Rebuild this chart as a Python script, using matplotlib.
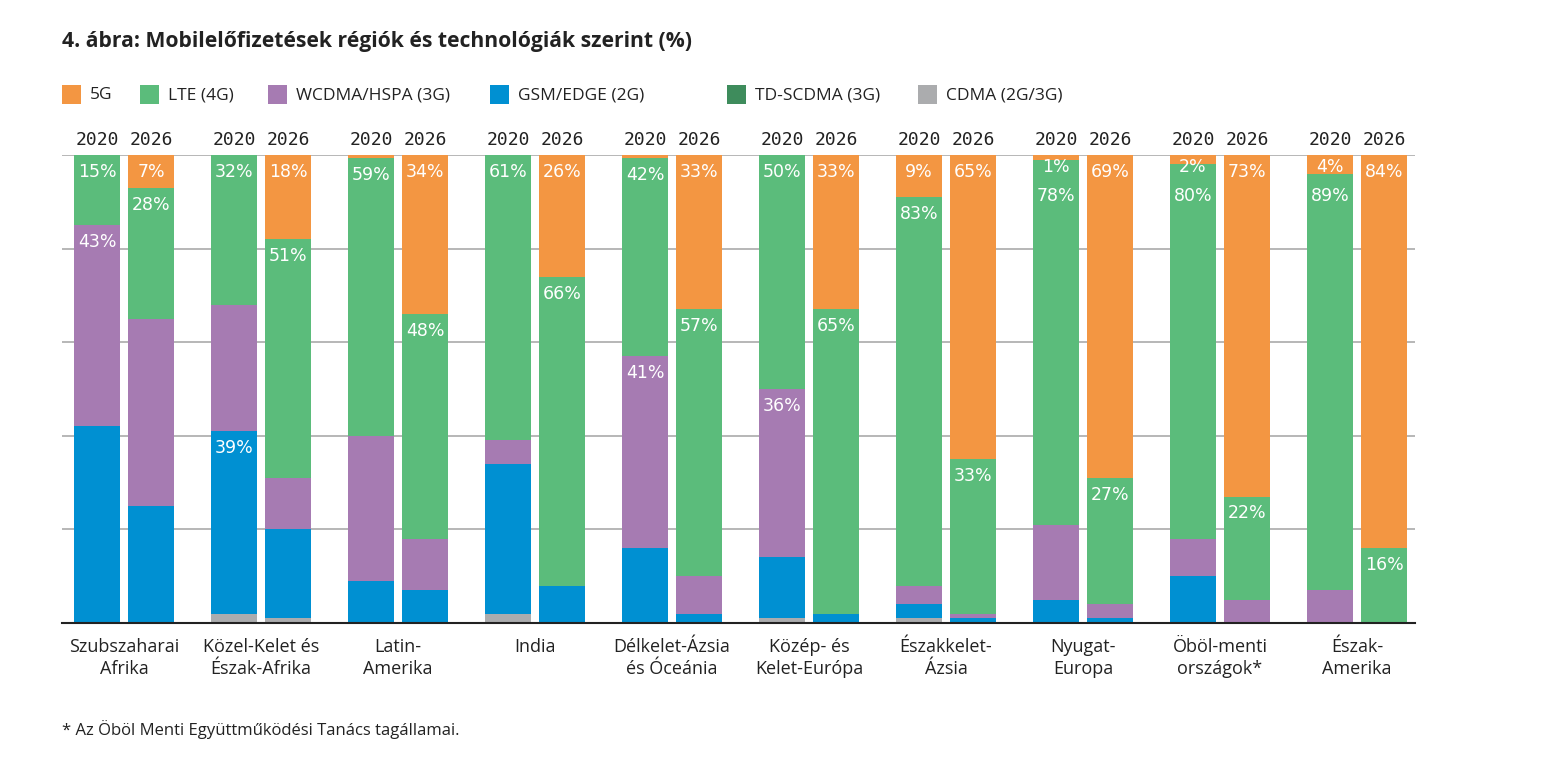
import matplotlib.pyplot as plt
from matplotlib.patches import Rectangle

# adatok (%), régiók sorrendjében
regiok = ["Szubszaharai\nAfrika", "Közel-Kelet és\nÉszak-Afrika", "Latin-\nAmerika", "India",
          "Délkelet-Ázsia\nés Óceánia", "Közép- és\nKelet-Európa", "Északkelet-\nÁzsia",
          "Nyugat-\nEuropa", "Öböl-menti\nországok*", "Észak-\nAmerika"]
evek = ["2020", "2026"]

g5_2020    = [0, 0, 0.6, 0, 0.6, 0, 9, 1, 2, 4]
lte_2020   = [15, 32, 59.4, 61, 42.4, 50, 83, 78, 80, 89]
wcdma_2020 = [43, 27, 31, 5, 41, 36, 4, 16, 8, 7]
gsm_2020   = [42, 39, 9, 32, 16, 13, 3, 5, 10, 0]
td_2020    = [0, 0, 0, 0, 0, 0, 0, 0, 0, 0]
cdma_2020  = [0, 2, 0, 2, 0, 1, 1, 0, 0, 0]

g5_2026    = [7, 18, 34, 26, 33, 33, 65, 69, 73, 84]
lte_2026   = [28, 51, 48, 66, 57, 65, 33, 27, 22, 16]
wcdma_2026 = [40, 11, 11, 0, 8, 0, 1, 3, 5, 0]
gsm_2026   = [25, 19, 7, 8, 2, 2, 1, 1, 0, 0]
td_2026    = [0, 0, 0, 0, 0, 0, 0, 0, 0, 0]
cdma_2026  = [0, 1, 0, 0, 0, 0, 0, 0, 0, 0]

techs = ["5G", "LTE (4G)", "WCDMA/HSPA (3G)", "GSM/EDGE (2G)", "TD-SCDMA (3G)", "CDMA (2G/3G)"]
colors = ["#F39642", "#5BBC7B", "#A67BB2", "#0090D2", "#3E8C5C", "#ABACAE"]

# alulról felfelé: CDMA, GSM, WCDMA, TD-SCDMA, LTE, 5G
stack_2020 = {"CDMA (2G/3G)": cdma_2020, "GSM/EDGE (2G)": gsm_2020, "WCDMA/HSPA (3G)": wcdma_2020,
              "TD-SCDMA (3G)": td_2020, "LTE (4G)": lte_2020, "5G": g5_2020}
stack_2026 = {"CDMA (2G/3G)": cdma_2026, "GSM/EDGE (2G)": gsm_2026, "WCDMA/HSPA (3G)": wcdma_2026,
              "TD-SCDMA (3G)": td_2026, "LTE (4G)": lte_2026, "5G": g5_2026}

# 5G/LTE mindig kap feliratot, ezek pedig pluszban
extra_labels = [("WCDMA/HSPA (3G)", 0, 0), ("GSM/EDGE (2G)", 1, 0),
                ("WCDMA/HSPA (3G)", 4, 0), ("WCDMA/HSPA (3G)", 5, 0)]

col = dict(zip(techs, colors))

fig = plt.figure(figsize=(15.58, 7.64), dpi=100)
ax = fig.add_axes([62/1558, 1-623/764, (1415-62)/1558, (623-155)/764])

w = 0.336
off = 0.197
for yi, stack in enumerate([stack_2020, stack_2026]):
    xs = [i + (-off if yi == 0 else off) for i in range(len(regiok))]
    bottom = [0]*len(regiok)
    labels = []  # (i, top, v)
    for t, vals in stack.items():
        ax.bar(xs, vals, width=w, bottom=bottom, color=col[t], zorder=2, linewidth=0)
        for i, v in enumerate(vals):
            show = (t in ("5G", "LTE (4G)") and v >= 1) or ((t, i, yi) in extra_labels)
            if show:
                labels.append((i, bottom[i] + v, v))
        bottom = [b + v for b, v in zip(bottom, vals)]
    # feliratok felülről lefelé, hogy ne fedjék egymást
    prev = {}
    for i, top, v in sorted(labels, key=lambda l: -l[1]):
        y = top - 3.6
        if v < 5:
            y = top - 2.6
        if i in prev:
            y = min(y, prev[i] - 6.2)
        prev[i] = y
        ax.text(xs[i], y, f"{v:.0f}%", ha="center", va="center",
                color="white", fontsize=12.5, family="DejaVu Sans", zorder=3)
    for x in xs:
        ax.text(x, 101.2, evek[yi], ha="center", va="bottom", fontsize=13,
                family="DejaVu Sans Mono", color="#222222")

ax.set_xlim(-0.4526, 9.423)
ax.set_ylim(0, 100)
ax.set_yticks([20, 40, 60, 80, 100])
ax.yaxis.grid(True, color="#AAAAAA", linewidth=1.2, zorder=0)
ax.set_yticklabels([])
ax.tick_params(length=0)
ax.set_xticks(range(len(regiok)))
ax.set_xticklabels(regiok, fontsize=13, family="Open Sans", color="#222222", linespacing=1.25)
ax.tick_params(axis="x", pad=11)
for s in ["top", "right", "left"]:
    ax.spines[s].set_visible(False)
ax.spines["bottom"].set_color("#222222")
ax.spines["bottom"].set_linewidth(1.5)
ax.set_axisbelow(True)

fig.text(62/1558, 1-42/764, "4. ábra: Mobilelőfizetések régiók és technológiák szerint (%)",
         fontsize=15.2, fontweight="bold", family="Open Sans", color="#222222", va="center")

# jelmagyarázat
leg_x = [62, 140, 268, 490, 727, 918]
for t, c, lx in zip(techs, colors, leg_x):
    fig.add_artist(Rectangle((lx/1558, 1-104/764), 19/1558, 19/764, transform=fig.transFigure,
                             color=c, lw=0))
    fig.text((lx+28)/1558, 1-95/764, t, fontsize=12.5, family="Open Sans", color="#222222", va="center")

fig.text(62/1558, 1-730/764, "* Az Öböl Menti Együttműködési Tanács tagállamai.",
         fontsize=12, family="Open Sans", color="#222222", va="center")

fig.savefig("out.png", dpi=100)
